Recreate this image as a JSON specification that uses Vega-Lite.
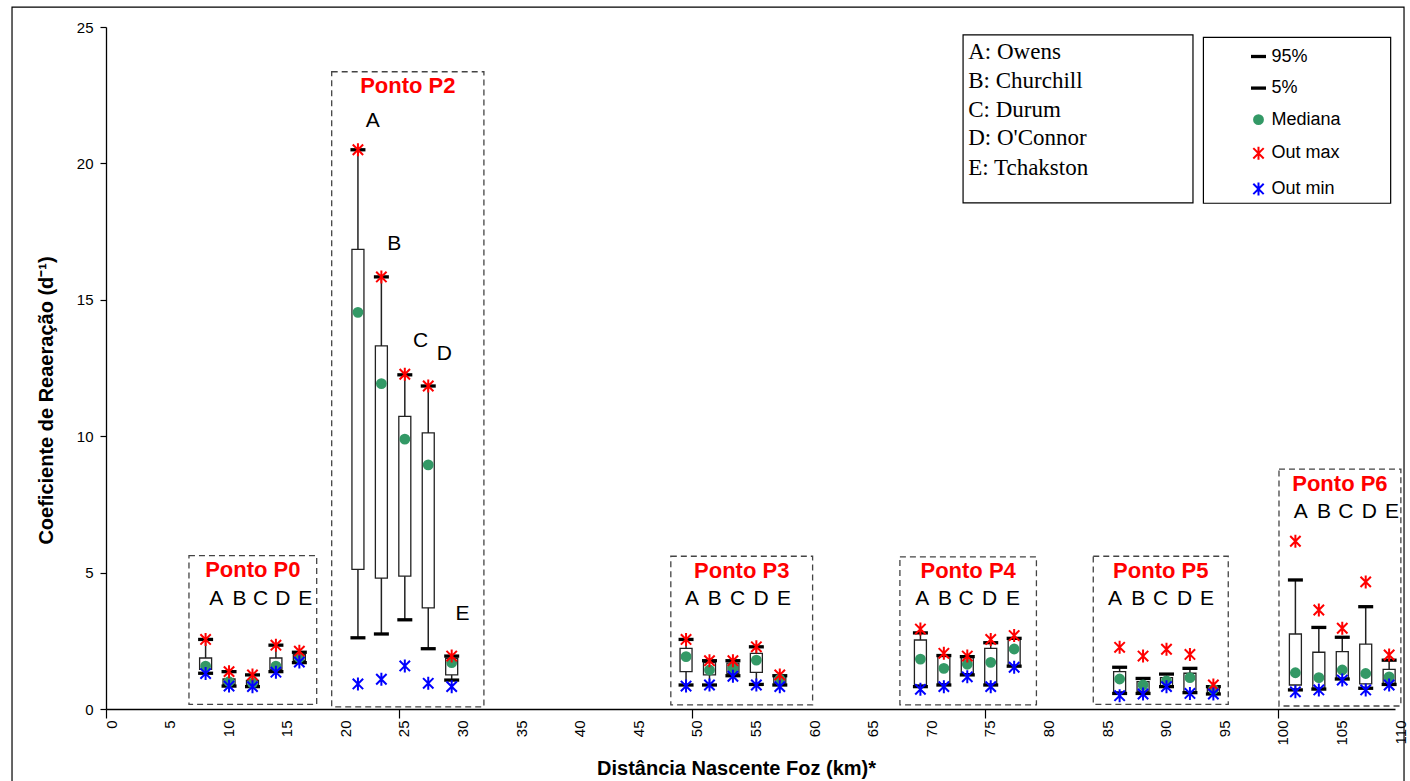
{
  "$schema": "https://vega.github.io/schema/vega-lite/v6.json",
  "width": 1289,
  "height": 682,
  "autosize": "none",
  "padding": {"left": 106, "top": 27, "right": 15, "bottom": 72},
  "background": "white",
  "config": {
    "font": "Liberation Sans",
    "view": {"stroke": null},
    "style": {"guide-label": {"fontSize": 15, "fill": "black"}},
    "axis": {"labelFontSize": 15, "labelColor": "black", "titleColor": "black", "domainColor": "black", "domainWidth": 1.3, "tickColor": "black", "tickWidth": 1.2, "grid": false, "titleFontWeight": "bold"},
    "axisX": {"labelAngle": 270, "labelFlush": false, "labelOverlap": false, "labelPadding": 2, "labelOffset": 5, "tickSize": 9, "titleFontSize": 20, "titlePadding": 13},
    "axisY": {"labelPadding": 7, "tickSize": 6, "titleFontSize": 20, "titlePadding": 20}
  },
  "datasets": {
    "caixas": [
      {"ponto": "P0", "metodo": "A", "km": 8.5, "5%": 1.31, "Q1": 1.45, "Mediana": 1.57, "Q3": 1.87, "95%": 2.55, "Out max": 2.55, "Out min": 1.3},
      {"ponto": "P0", "metodo": "B", "km": 10.5, "5%": 0.84, "Q1": 0.9, "Mediana": 1.0, "Q3": 1.1, "95%": 1.37, "Out max": 1.37, "Out min": 0.84},
      {"ponto": "P0", "metodo": "C", "km": 12.5, "5%": 0.82, "Q1": 0.88, "Mediana": 0.95, "Q3": 1.05, "95%": 1.25, "Out max": 1.25, "Out min": 0.82},
      {"ponto": "P0", "metodo": "D", "km": 14.5, "5%": 1.37, "Q1": 1.45, "Mediana": 1.57, "Q3": 1.87, "95%": 2.34, "Out max": 2.34, "Out min": 1.35},
      {"ponto": "P0", "metodo": "E", "km": 16.5, "5%": 1.7, "Q1": 1.78, "Mediana": 1.88, "Q3": 2.0, "95%": 2.08, "Out max": 2.12, "Out min": 1.72},
      {"ponto": "P2", "metodo": "A", "km": 21.5, "5%": 2.61, "Q1": 5.12, "Mediana": 14.54, "Q3": 16.85, "95%": 20.5, "Out max": 20.5, "Out min": 0.92},
      {"ponto": "P2", "metodo": "B", "km": 23.5, "5%": 2.75, "Q1": 4.8, "Mediana": 11.93, "Q3": 13.31, "95%": 15.84, "Out max": 15.84, "Out min": 1.09},
      {"ponto": "P2", "metodo": "C", "km": 25.5, "5%": 3.27, "Q1": 4.87, "Mediana": 9.89, "Q3": 10.73, "95%": 12.25, "Out max": 12.27, "Out min": 1.58},
      {"ponto": "P2", "metodo": "D", "km": 27.5, "5%": 2.21, "Q1": 3.71, "Mediana": 8.95, "Q3": 10.12, "95%": 11.84, "Out max": 11.84, "Out min": 0.94},
      {"ponto": "P2", "metodo": "E", "km": 29.5, "5%": 1.06, "Q1": 1.25, "Mediana": 1.7, "Q3": 1.86, "95%": 1.94, "Out max": 1.94, "Out min": 0.82},
      {"ponto": "P3", "metodo": "A", "km": 49.5, "5%": 0.88, "Q1": 1.37, "Mediana": 1.92, "Q3": 2.22, "95%": 2.55, "Out max": 2.55, "Out min": 0.84},
      {"ponto": "P3", "metodo": "B", "km": 51.5, "5%": 0.88, "Q1": 1.25, "Mediana": 1.43, "Q3": 1.7, "95%": 1.77, "Out max": 1.77, "Out min": 0.88},
      {"ponto": "P3", "metodo": "C", "km": 53.5, "5%": 1.22, "Q1": 1.3, "Mediana": 1.49, "Q3": 1.68, "95%": 1.77, "Out max": 1.77, "Out min": 1.2},
      {"ponto": "P3", "metodo": "D", "km": 55.5, "5%": 0.9, "Q1": 1.34, "Mediana": 1.79, "Q3": 2.04, "95%": 2.28, "Out max": 2.28, "Out min": 0.88},
      {"ponto": "P3", "metodo": "E", "km": 57.5, "5%": 0.88, "Q1": 0.95, "Mediana": 1.1, "Q3": 1.2, "95%": 1.22, "Out max": 1.25, "Out min": 0.82},
      {"ponto": "P4", "metodo": "A", "km": 69.5, "5%": 0.82, "Q1": 0.88, "Mediana": 1.83, "Q3": 2.53, "95%": 2.79, "Out max": 2.93, "Out min": 0.72},
      {"ponto": "P4", "metodo": "B", "km": 71.5, "5%": 0.88, "Q1": 0.92, "Mediana": 1.49, "Q3": 1.94, "95%": 1.96, "Out max": 2.04, "Out min": 0.82},
      {"ponto": "P4", "metodo": "C", "km": 73.5, "5%": 1.25, "Q1": 1.3, "Mediana": 1.64, "Q3": 1.88, "95%": 1.92, "Out max": 1.94, "Out min": 1.18},
      {"ponto": "P4", "metodo": "D", "km": 75.5, "5%": 0.88, "Q1": 0.9, "Mediana": 1.71, "Q3": 2.22, "95%": 2.43, "Out max": 2.55, "Out min": 0.82},
      {"ponto": "P4", "metodo": "E", "km": 77.5, "5%": 1.57, "Q1": 1.6, "Mediana": 2.2, "Q3": 2.55, "95%": 2.59, "Out max": 2.69, "Out min": 1.53},
      {"ponto": "P5", "metodo": "A", "km": 86.5, "5%": 0.57, "Q1": 0.63, "Mediana": 1.1, "Q3": 1.37, "95%": 1.53, "Out max": 2.26, "Out min": 0.49},
      {"ponto": "P5", "metodo": "B", "km": 88.5, "5%": 0.57, "Q1": 0.65, "Mediana": 0.88, "Q3": 1.0, "95%": 1.12, "Out max": 1.94, "Out min": 0.55},
      {"ponto": "P5", "metodo": "C", "km": 90.5, "5%": 0.82, "Q1": 0.85, "Mediana": 1.03, "Q3": 1.15, "95%": 1.28, "Out max": 2.19, "Out min": 0.82},
      {"ponto": "P5", "metodo": "D", "km": 92.5, "5%": 0.6, "Q1": 0.63, "Mediana": 1.15, "Q3": 1.31, "95%": 1.49, "Out max": 2.0, "Out min": 0.57},
      {"ponto": "P5", "metodo": "E", "km": 94.5, "5%": 0.55, "Q1": 0.6, "Mediana": 0.72, "Q3": 0.8, "95%": 0.82, "Out max": 0.88, "Out min": 0.55},
      {"ponto": "P6", "metodo": "A", "km": 101.5, "5%": 0.7, "Q1": 0.88, "Mediana": 1.33, "Q3": 2.75, "95%": 4.73, "Out max": 6.15, "Out min": 0.63},
      {"ponto": "P6", "metodo": "B", "km": 103.5, "5%": 0.73, "Q1": 0.76, "Mediana": 1.15, "Q3": 2.08, "95%": 2.99, "Out max": 3.63, "Out min": 0.7},
      {"ponto": "P6", "metodo": "C", "km": 105.5, "5%": 1.1, "Q1": 1.12, "Mediana": 1.43, "Q3": 2.1, "95%": 2.63, "Out max": 2.96, "Out min": 1.06},
      {"ponto": "P6", "metodo": "D", "km": 107.5, "5%": 0.76, "Q1": 0.92, "Mediana": 1.3, "Q3": 2.38, "95%": 3.75, "Out max": 4.66, "Out min": 0.7},
      {"ponto": "P6", "metodo": "E", "km": 109.5, "5%": 0.9, "Q1": 0.94, "Mediana": 1.18, "Q3": 1.45, "95%": 1.79, "Out max": 1.98, "Out min": 0.88}
    ],
    "pontos": [
      {"titulo": "Ponto P0", "x0": 7.08, "x1": 17.98, "y0": 0.17, "y1": 5.62},
      {"titulo": "Ponto P2", "x0": 19.26, "x1": 32.25, "y0": 0.08, "y1": 23.36},
      {"titulo": "Ponto P3", "x0": 48.2, "x1": 60.3, "y0": 0.15, "y1": 5.6},
      {"titulo": "Ponto P4", "x0": 67.75, "x1": 79.4, "y0": 0.15, "y1": 5.58},
      {"titulo": "Ponto P5", "x0": 84.25, "x1": 95.77, "y0": 0.17, "y1": 5.6},
      {"titulo": "Ponto P6", "x0": 100.1, "x1": 110.5, "y0": 0.11, "y1": 8.79}
    ],
    "letras": [
      {"letra": "A", "x": 9.4, "y": 4.05}, {"letra": "B", "x": 11.4, "y": 4.05}, {"letra": "C", "x": 13.2, "y": 4.05}, {"letra": "D", "x": 15.1, "y": 4.05}, {"letra": "E", "x": 17.0, "y": 4.05},
      {"letra": "A", "x": 22.76, "y": 21.57}, {"letra": "B", "x": 24.6, "y": 17.03}, {"letra": "C", "x": 26.85, "y": 13.48}, {"letra": "D", "x": 28.87, "y": 13.03}, {"letra": "E", "x": 30.43, "y": 3.5},
      {"letra": "A", "x": 50.0, "y": 4.05}, {"letra": "B", "x": 51.95, "y": 4.05}, {"letra": "C", "x": 53.9, "y": 4.05}, {"letra": "D", "x": 55.9, "y": 4.05}, {"letra": "E", "x": 57.85, "y": 4.05},
      {"letra": "A", "x": 69.65, "y": 4.05}, {"letra": "B", "x": 71.6, "y": 4.05}, {"letra": "C", "x": 73.4, "y": 4.05}, {"letra": "D", "x": 75.4, "y": 4.05}, {"letra": "E", "x": 77.4, "y": 4.05},
      {"letra": "A", "x": 86.1, "y": 4.05}, {"letra": "B", "x": 88.1, "y": 4.05}, {"letra": "C", "x": 90.0, "y": 4.05}, {"letra": "D", "x": 92.05, "y": 4.05}, {"letra": "E", "x": 93.95, "y": 4.05},
      {"letra": "A", "x": 101.95, "y": 7.23}, {"letra": "B", "x": 103.95, "y": 7.23}, {"letra": "C", "x": 105.8, "y": 7.23}, {"letra": "D", "x": 107.8, "y": 7.23}, {"letra": "E", "x": 109.75, "y": 7.23}
    ],
    "metodos": [
      {"rotulo": "A: Owens", "x": 73.58, "y": 24.09},
      {"rotulo": "B: Churchill", "x": 73.58, "y": 23.03},
      {"rotulo": "C: Durum", "x": 73.58, "y": 21.96},
      {"rotulo": "D: O'Connor", "x": 73.58, "y": 20.92},
      {"rotulo": "E: Tchakston", "x": 73.58, "y": 19.84}
    ],
    "molduras": [
      {"nome": "quadro", "x0": -8.02, "x1": 110.77, "y0": -3, "y1": 25.73},
      {"nome": "metodos", "x0": 73.14, "x1": 92.76, "y0": 18.55, "y1": 24.71},
      {"nome": "estatisticas", "x0": 93.65, "x1": 109.63, "y0": 18.54, "y1": 24.62}
    ]
  },
  "layer": [
    {
      "data": {"name": "molduras"},
      "mark": {"type": "rect", "fill": "transparent", "stroke": "black", "strokeWidth": 1.2},
      "encoding": {
        "x": {
          "field": "x0", "type": "quantitative",
          "scale": {"domain": [0, 110], "nice": false, "zero": false, "padding": 0},
          "axis": {
            "values": [0, 5, 10, 15, 20, 25, 30, 35, 40, 45, 50, 55, 60, 65, 70, 75, 80, 85, 90, 95, 100, 105, 110],
            "title": "Distância Nascente Foz (km)*",
            "labelAngle": 270, "labelFontSize": 15, "labelFlush": false, "labelOverlap": false,
            "tickSize": 9, "labelPadding": 2, "labelOffset": 5, "titleX": 630,
            "tickOpacity": {"condition": {"test": "datum.value % 25 === 0", "value": 1}, "value": 0}
          }
        },
        "x2": {"field": "x1"},
        "y": {
          "field": "y0", "type": "quantitative",
          "scale": {"domain": [0, 25], "nice": false, "zero": true, "padding": 0},
          "axis": {
            "values": [0, 5, 10, 15, 20, 25],
            "title": "Coeficiente de Reaeração (d⁻¹)",
            "labelFontSize": 15, "tickSize": 6, "labelPadding": 7,
            "titleY": 373
          }
        },
        "y2": {"field": "y1"}
      }
    },
    {
      "data": {"name": "pontos"},
      "mark": {"type": "rect", "fill": "transparent", "stroke": "#444444", "strokeWidth": 1.3, "strokeDash": [6, 4]},
      "encoding": {
        "x": {"field": "x0", "type": "quantitative"},
        "x2": {"field": "x1"},
        "y": {"field": "y0", "type": "quantitative"},
        "y2": {"field": "y1"}
      }
    },
    {
      "data": {"name": "caixas"},
      "mark": {"type": "rule", "color": "#222222", "strokeWidth": 1.5},
      "encoding": {
        "x": {"field": "km", "type": "quantitative"},
        "y": {"field": "5%", "type": "quantitative"},
        "y2": {"field": "95%"}
      }
    },
    {
      "data": {"name": "caixas"},
      "mark": {"type": "bar", "size": 12, "fill": "white", "stroke": "#222222", "strokeWidth": 1.3},
      "encoding": {
        "x": {"field": "km", "type": "quantitative"},
        "y": {"field": "Q1", "type": "quantitative"},
        "y2": {"field": "Q3"}
      }
    },
    {
      "data": {"name": "caixas"},
      "transform": [
        {"fold": ["95%", "5%", "Mediana", "Out max", "Out min"], "as": ["tipo", "valor"]}
      ],
      "mark": {"type": "point", "filled": true, "size": 169, "strokeWidth": 2, "opacity": 1},
      "encoding": {
        "x": {"field": "km", "type": "quantitative"},
        "y": {"field": "valor", "type": "quantitative"},
        "shape": {
          "field": "tipo", "type": "nominal",
          "scale": {
            "domain": ["95%", "5%", "Mediana", "Out max", "Out min"],
            "range": [
              "M-1,-0.1L1,-0.1L1,0.1L-1,0.1Z",
              "M-1,-0.1L1,-0.1L1,0.1L-1,0.1Z",
              "M0.68,0A0.68,0.68,0,1,1,-0.68,0A0.68,0.68,0,1,1,0.68,0Z",
              "M-0.8,-0.8L0.8,0.8M-0.8,0.8L0.8,-0.8M0,-1L0,1",
              "M-0.8,-0.8L0.8,0.8M-0.8,0.8L0.8,-0.8M0,-1L0,1"
            ]
          },
          "legend": {"title": null, "orient": "none", "legendX": 1143.5, "legendY": 20.5, "labelFontSize": 18, "labelColor": "black", "labelOffset": 4, "symbolSize": 169, "symbolStrokeWidth": 2, "rowPadding": 13.6, "padding": 0}
        },
        "fill": {
          "field": "tipo", "type": "nominal",
          "scale": {"domain": ["95%", "5%", "Mediana", "Out max", "Out min"], "range": ["black", "black", "#339966", "red", "blue"]},
          "legend": {"title": null, "orient": "none", "legendX": 1143.5, "legendY": 20.5, "labelFontSize": 18, "labelColor": "black", "labelOffset": 4, "symbolSize": 169, "symbolStrokeWidth": 2, "rowPadding": 13.6, "padding": 0}
        },
        "stroke": {
          "field": "tipo", "type": "nominal",
          "scale": {"domain": ["95%", "5%", "Mediana", "Out max", "Out min"], "range": ["black", "black", "#339966", "red", "blue"]},
          "legend": {"title": null, "orient": "none", "legendX": 1143.5, "legendY": 20.5, "labelFontSize": 18, "labelColor": "black", "labelOffset": 4, "symbolSize": 169, "symbolStrokeWidth": 2, "rowPadding": 13.6, "padding": 0}
        }
      }
    },
    {
      "data": {"name": "pontos"},
      "transform": [{"calculate": "(datum.x0 + datum.x1) / 2", "as": "xc"}],
      "mark": {"type": "text", "color": "red", "fontSize": 22, "fontWeight": "bold", "baseline": "middle", "align": "center", "dy": 14.5},
      "encoding": {
        "x": {"field": "xc", "type": "quantitative"},
        "y": {"field": "y1", "type": "quantitative"},
        "text": {"field": "titulo"}
      }
    },
    {
      "data": {"name": "letras"},
      "mark": {"type": "text", "color": "black", "fontSize": 21, "baseline": "middle", "align": "center"},
      "encoding": {
        "x": {"field": "x", "type": "quantitative"},
        "y": {"field": "y", "type": "quantitative"},
        "text": {"field": "letra"}
      }
    },
    {
      "data": {"name": "metodos"},
      "mark": {"type": "text", "color": "black", "font": "Liberation Serif", "fontSize": 23, "baseline": "middle", "align": "left"},
      "encoding": {
        "x": {"field": "x", "type": "quantitative"},
        "y": {"field": "y", "type": "quantitative"},
        "text": {"field": "rotulo"}
      }
    }
  ]
}
